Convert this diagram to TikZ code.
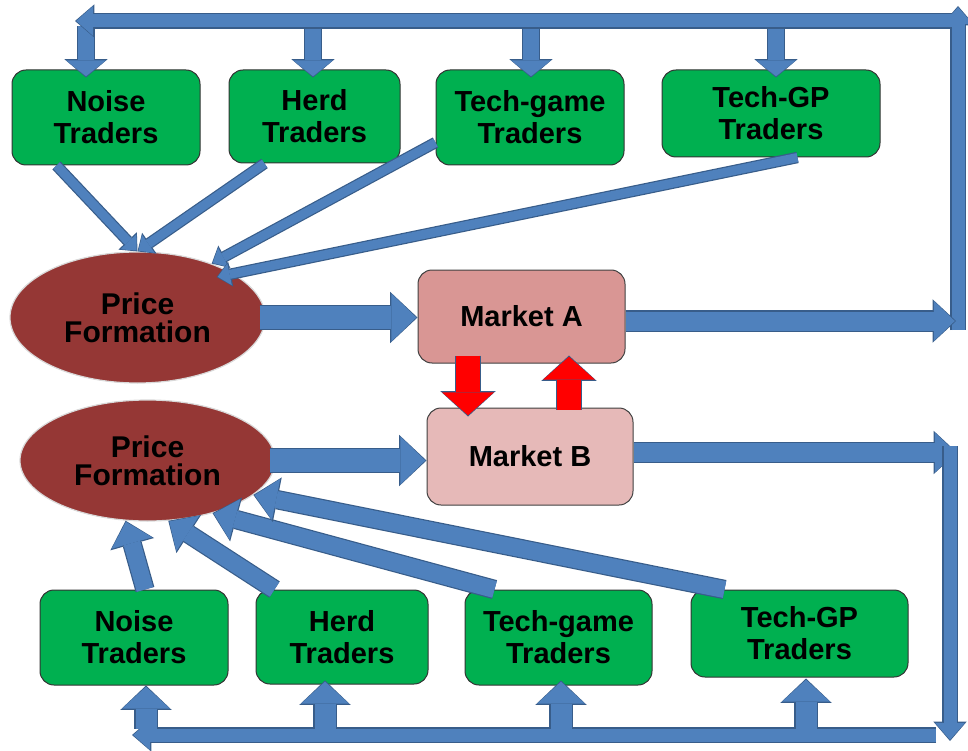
\documentclass[tikz,border=0pt]{standalone}
\usepackage{fontspec}
\setmainfont{Liberation Sans}
\usetikzlibrary{shapes.geometric,arrows.meta}
\definecolor{ablue}{HTML}{4F81BD}
\definecolor{aedge}{HTML}{385D8A}
\definecolor{tgreen}{HTML}{00B050}
\definecolor{pfred}{HTML}{953735}
\definecolor{mkta}{HTML}{D99694}
\definecolor{mktb}{HTML}{E6B9B8}

\begin{document}
\begin{tikzpicture}[x=1pt,y=-1pt,
blk/.style n args={4}{/utils/exec={\pgfmathsetmacro\blkw{#1+2.4}\pgfmathsetmacro\blkh{#2+3.4}\pgfmathsetmacro\blkl{#3+2.4}},
  preaction={draw=aedge,line width=\blkw pt,shorten >=0pt,-{Triangle[width=\blkh pt,length=\blkl pt,line width=0pt]}},
  draw=#4,line width=#1pt,shorten >=1.2pt,-{Triangle[width=#2pt,length=#3pt,line width=0pt]}},
feeddn/.style={blk={16}{40}{16}{ablue}},
feedup/.style={blk={21}{48}{22}{ablue}},
flow/.style={blk={23}{48}{25}{ablue}},
mkout/.style={blk={19}{40}{21}{ablue}},
loopln/.style={blk={13}{30}{17}{ablue}},
thinarr/.style={blk={9}{22}{12}{ablue}},
backarr/.style={blk={17}{42}{22}{ablue}},
linkarr/.style={blk={24}{52}{23}{red}},
trader/.style={draw=black!80,line width=1pt,fill=tgreen,rounded corners=14pt,align=center,inner sep=0pt,font=\bfseries\fontsize{29}{32}\selectfont},
pform/.style={ellipse,draw=black!15,line width=1.2pt,fill=pfred,align=center,inner sep=0pt,font=\bfseries\fontsize{30}{28}\selectfont},
mkt/.style={draw=black!75,line width=1pt,rounded corners=14pt,inner sep=0pt,font=\bfseries\fontsize{29}{32}\selectfont},
sz/.style 2 args={minimum width=#1pt,minimum height=#2pt}]
\useasboundingbox (0,0) rectangle (968,751);

\node[trader,sz={188}{95}] (noiseT) at (106,117.5) {Noise\\Traders};
\node[trader,sz={171}{93}] (herdT) at (314.5,116.5) {Herd\\Traders};
\node[trader,sz={188}{95}] (gameT) at (530,117.5) {Tech-game\\Traders};
\node[trader,sz={218}{87}] (gpT) at (771,113.5) {Tech-GP\\Traders};

\node[pform,sz={255}{131}] (pfA) at (137.5,317.5) {Price\\Formation};
\node[mkt,fill=mkta,sz={207}{93}] (mktA) at (521.5,316.5) {Market A};
\node[mkt,fill=mktb,sz={206}{97}] (mktB) at (530,456.5) {Market B};
\node[pform,sz={255}{121}] (pfB) at (147.5,460.5) {Price\\Formation};

\node[trader,sz={188}{95}] (noiseB) at (134,637.5) {Noise\\Traders};
\node[trader,sz={172}{94}] (herdB) at (342,637) {Herd\\Traders};
\node[trader,sz={187}{95}] (gameB) at (558.5,637.5) {Tech-game\\Traders};
\node[trader,sz={217}{87}] (gpB) at (799.5,633.5) {Tech-GP\\Traders};

\coordinate (aEnd) at (956,321);
\coordinate (upLow) at (958,330);
\coordinate (upTop) at (958,6);
\coordinate (topR) at (952,21);
\coordinate (topL) at (75,21);
\coordinate (bEnd) at (957,452.5);
\coordinate (dnTop) at (950,446);
\coordinate (dnLow) at (950,741);
\coordinate (botR) at (936,735);
\coordinate (botL) at (132,735);

\draw[feeddn] ([shift={(-20,-43)}]noiseT.north) -- ([shift={(-20,8)}]noiseT.north);
\draw[feeddn] ([shift={(-1.5,-43)}]herdT.north) -- ([shift={(-1.5,8)}]herdT.north);
\draw[feeddn] ([shift={(1,-43)}]gameT.north) -- ([shift={(1,8)}]gameT.north);
\draw[feeddn] ([shift={(5,-43)}]gpT.north) -- ([shift={(5,8)}]gpT.north);
\draw[loopln] (upLow) -- (upTop);
\draw[loopln] (topR) -- (topL);

\draw[thinarr] ([xshift=45pt]noiseT.south west) -- (pfA.north);
\draw[thinarr] ([xshift=36pt]herdT.south west) -- (pfA.north);
\draw[thinarr] ([yshift=23pt]gameT.south west) -- (pfA.36);
\draw[thinarr] ([xshift=-83pt]gpT.south east) -- ([shift={(-12,6)}]pfA.27);

\draw[flow] ([xshift=-6pt]pfA.east) -- (pfA.east -| mktA.west);
\draw[flow] ([xshift=-6pt]pfB.east) -- (pfB.east -| mktB.west);
\draw[mkout] ([yshift=-4.5pt]mktA.east) -- (aEnd);
\draw[mkout] ([yshift=4pt]mktB.east) -- (bEnd);

\draw[linkarr] ([shift={(-53.5,-8)}]mktA.south) -- ([shift={(-62,9)}]mktB.north);
\draw[linkarr] ([shift={(39,2)}]mktB.north) -- ([shift={(47.5,-8)}]mktA.south);

\draw[loopln] (dnTop) -- (dnLow);
\draw[loopln] (botR) -- (botL);
\draw[feedup] ([shift={(12,43)}]noiseB.south) -- ([shift={(12,0)}]noiseB.south);
\draw[feedup] ([shift={(-17,44)}]herdB.south) -- ([shift={(-17,-4)}]herdB.south);
\draw[feedup] ([shift={(2.5,43)}]gameB.south) -- ([shift={(2.5,-5)}]gameB.south);
\draw[feedup] ([shift={(6.5,51)}]gpB.south) -- ([shift={(6.5,1)}]gpB.south);

\draw[backarr] ([xshift=11pt]noiseB.north) -- (pfB.250);
\draw[backarr] ([xshift=19pt]herdB.north west) -- (pfB.-71);
\draw[backarr] ([xshift=30pt]gameB.north west) -- (pfB.-39);
\draw[backarr] ([xshift=34pt]gpB.north west) -- (pfB.-18);
\end{tikzpicture}
\end{document}
